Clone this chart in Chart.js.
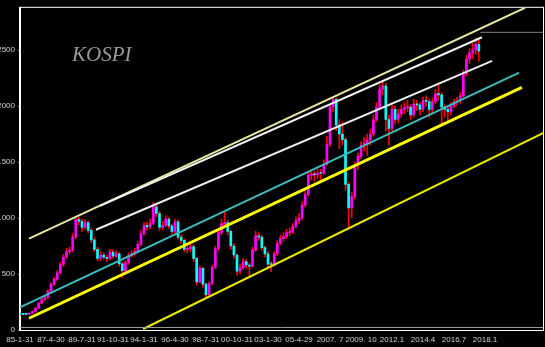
<!DOCTYPE html>
<html>
<head>
<meta charset="utf-8">
<script src="https://cdn.jsdelivr.net/npm/chart.js@4/dist/chart.umd.min.js"></script>
<style>
  html,body{margin:0;padding:0;background:#000;}
  #wrap{position:relative;width:545px;height:347px;}
</style>
</head>
<body>
<div id="wrap"><canvas id="kospi" width="545" height="347"></canvas></div>
<script>
// x axis labels, one every 10 bars
const tickLabels = ["85-1-31","87-4-30","89-7-31","91-10-31","94-1-31","96-4-30","98-7-31","00-10-31",
  "03-1-30","05-4-29","2007. 7","2009. 10","2012.1","2014.4","2016.7","2018.1"];
const tickPos = [0,10,20,30,40,50,60,70,80,90,100,110,120,130,140,150];
const yTicks = [0,500,1000,1500,2000,2500];

// candles (bar index 0..148)
const opens = [140,140,140,140,150,165,195,240,272,290,
  348,410,452,510,585,650,700,712,830,985,
  970,915,960,890,805,720,640,670,650,640,
  695,660,680,590,530,600,665,680,700,765,
  860,935,920,955,1100,1040,915,935,990,930,
  880,965,830,800,720,725,745,640,430,550,
  410,315,415,560,725,870,950,960,880,750,
  670,526,555,610,580,570,715,840,830,735,
  680,588,585,680,775,816,835,870,875,925,
  975,1000,1115,1210,1380,1395,1385,1400,1400,1480,
  1660,1991,2060,1830,1750,1700,1300,1090,1190,1480,
  1550,1650,1670,1695,1750,1880,1990,2150,2180,1880,
  1800,1970,1880,1930,1970,1985,1990,1920,2018,2010,
  1970,2050,2040,1970,2040,2110,2100,1990,1970,1950,
  2000,2035,2045,2090,2290,2420,2475,2500,2550];
const closes = [140,140,140,150,165,195,240,272,290,348,
  410,452,510,585,650,700,712,830,985,970,
  915,960,890,805,720,640,670,650,640,695,
  660,680,590,530,600,665,680,700,765,860,
  935,920,955,1100,1040,915,935,990,930,880,
  965,830,800,720,725,745,640,430,550,410,
  315,415,560,725,870,950,960,880,750,670,
  526,555,610,580,570,715,840,830,735,680,
  588,585,680,775,816,835,870,875,925,975,
  1000,1115,1210,1380,1395,1385,1400,1400,1480,1660,
  1991,2060,1830,1750,1700,1300,1090,1190,1480,1550,
  1650,1670,1695,1750,1880,1990,2150,2180,1880,1800,
  1970,1880,1930,1970,1985,1990,1920,2018,2010,1970,
  2050,2040,1970,2040,2110,2100,1990,1970,1950,2000,
  2035,2045,2090,2290,2420,2475,2500,2550,2490];
const highs = [145,146,145,154,170,200,248,282,305,360,
  425,470,530,605,675,730,740,860,1010,1007,
  990,985,975,905,830,740,700,690,670,720,
  715,710,695,605,620,690,710,730,790,890,
  960,965,990,1140,1120,1060,970,1020,1005,945,
  990,980,850,815,750,770,760,650,570,560,
  420,430,580,750,900,990,1060,980,890,770,
  680,590,640,630,600,740,880,870,845,750,
  700,610,700,800,850,870,900,910,950,1010,
  1040,1145,1250,1420,1430,1420,1440,1435,1520,1730,
  2015,2085,2070,1880,1860,1720,1320,1230,1500,1580,
  1680,1720,1750,1790,1920,2030,2190,2230,2200,1920,
  2010,2000,1970,2010,2030,2050,2010,2060,2050,2030,
  2080,2090,2060,2070,2150,2190,2120,2010,2000,2030,
  2060,2080,2120,2320,2450,2510,2560,2607,2590];
const lows = [132,134,135,138,146,160,190,232,262,282,
  340,400,440,500,570,640,680,700,815,940,
  880,900,870,780,700,620,620,630,610,625,
  640,645,570,470,515,585,650,665,690,750,
  845,890,900,940,1010,890,895,920,905,855,
  865,810,770,700,690,700,610,400,420,380,
  280,300,405,550,710,850,930,850,720,640,
  490,500,540,550,470,560,700,800,710,650,
  560,520,570,665,760,790,815,840,860,910,
  950,985,1100,1200,1340,1330,1350,1340,1390,1470,
  1640,1950,1780,1620,1650,1250,900,1000,1170,1430,
  1530,1600,1560,1650,1730,1860,1970,2100,1780,1650,
  1780,1840,1850,1900,1930,1950,1880,1900,1960,1920,
  1950,2000,1900,1940,2020,2050,1840,1900,1870,1920,
  1980,2000,2020,2080,2270,2380,2420,2460,2400];

// trend lines: [startBar, startValue, endBar, endValue]
const paleLine   = [2.9, 816, 162.9, 2877];
const whiteUpper = [25.8, 1109, 149, 2614];
const whiteLower = [24.5, 895, 152.3, 2403];
const tealLine   = [0, 202, 161, 2298];
const yellowMid  = [2.9, 105, 161.9, 2167];
const yellowLow  = [39.7, 9, 170, 1775];
const topLevel   = [148.4, 2658, 168.7, 2658];

const X_MAX = 168.7, Y_MAX = 2877;

const wicks = opens.map((o,i)=>({x:i, y:[lows[i], highs[i]]}));
const bodies = opens.map((o,i)=>({x:i, y:[o, closes[i]]}));
const bodyColors = opens.map((o,i)=> closes[i] > o ? "#ff00ff" : "#00ffff");

function seg(s, color, width){
  return {
    type:"line",
    data:[{x:s[0], y:s[1]}, {x:s[2], y:s[3]}],
    borderColor:color, borderWidth:width,
    pointRadius:0, tension:0, order:0
  };
}

const frame = {
  id:"frame",
  beforeDatasetsDraw(chart){
    const ctx = chart.ctx;
    ctx.save();
    ctx.font = 'italic 21px "Liberation Serif"';
    ctx.fillStyle = "#9a9a9a";
    ctx.textBaseline = "alphabetic";
    ctx.fillText("KOSPI", 72, 61);
    ctx.restore();
  },
  afterDraw(chart){
    const a = chart.chartArea, ctx = chart.ctx;
    ctx.save();
    ctx.strokeStyle = "#ffffff";
    ctx.lineWidth = 1;
    ctx.strokeRect(a.left - 0.5, a.top - 0.5, a.right - a.left + 1, a.bottom - a.top + 1);
    ctx.strokeStyle = "#9a9a9a";
    ctx.beginPath();
    ctx.moveTo(a.left, a.bottom - 2.5);
    ctx.lineTo(a.right, a.bottom - 2.5);
    ctx.stroke();
    ctx.restore();
  }
};

new Chart(document.getElementById("kospi"), {
  type:"bar",
  data:{
    datasets:[
      seg(whiteUpper, "#f4f4f4", 2),
      seg(paleLine, "#e6e6a0", 2),
      seg(whiteLower, "#eeeeee", 2),
      seg(tealLine, "#3cbcbc", 2),
      seg(yellowMid, "#ffff00", 3),
      seg(yellowLow, "#e8e800", 2),
      seg(topLevel, "#808080", 1),
      {type:"bar", data:bodies, backgroundColor:bodyColors, barThickness:2,
       minBarLength:1, grouped:false, order:1},
      {type:"bar", data:wicks, backgroundColor:"#ff0000", barThickness:1,
       grouped:false, order:2}
    ]
  },
  options:{
    responsive:false,
    animation:false,
    devicePixelRatio:1,
    layout:{padding:{left:0, right:2, top:2, bottom:0}},
    plugins:{legend:{display:false}, tooltip:{enabled:false}},
    scales:{
      x:{
        type:"linear", min:0, max:X_MAX, offset:false,
        afterBuildTicks(s){ s.ticks = tickPos.map(v=>({value:v})); },
        afterFit(s){ s.height = 17; },
        grid:{drawOnChartArea:false, drawTicks:false},
        border:{color:"#ffffff"},
        ticks:{
          autoSkip:false, maxRotation:0, padding:5,
          color:"#d0d0d0", font:{family:"Liberation Sans", size:8},
          callback(v){ const k = tickPos.indexOf(v); return k < 0 ? "" : tickLabels[k]; }
        }
      },
      y:{
        type:"linear", min:0, max:Y_MAX,
        afterBuildTicks(s){ s.ticks = yTicks.map(v=>({value:v})); },
        afterFit(s){ s.width = 20; },
        grid:{drawOnChartArea:false, drawTicks:true, tickLength:2, color:"#909090"},
        border:{color:"#ffffff"},
        ticks:{padding:3, color:"#d0d0d0", font:{family:"Liberation Sans", size:8},
          callback(v){ return String(v); }}
      }
    }
  },
  plugins:[frame]
});
</script>
</body>
</html>
